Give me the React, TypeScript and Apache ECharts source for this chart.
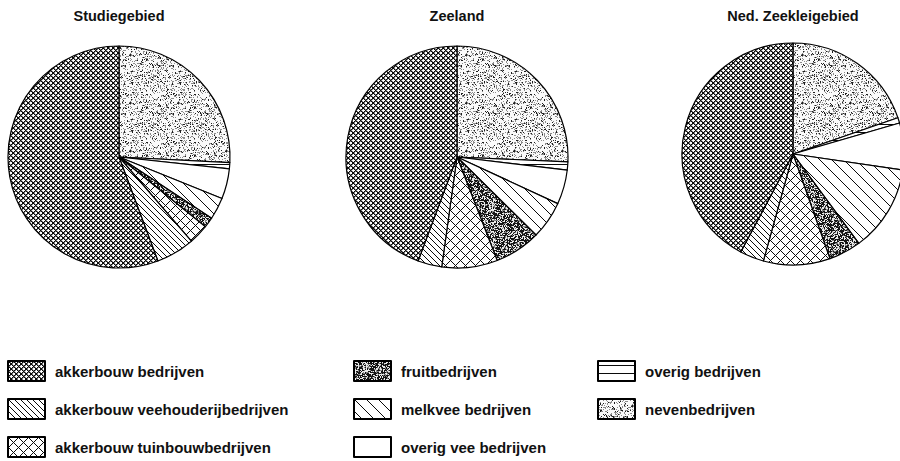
import React, { useEffect, useRef } from 'react';
import * as echarts from 'echarts';

// Slice order: clockwise from 12 o'clock
const categories = [
  'nevenbedrijven',
  'overig bedrijven',
  'overig vee bedrijven',
  'melkvee bedrijven',
  'fruitbedrijven',
  'akkerbouw tuinbouwbedrijven',
  'akkerbouw veehouderijbedrijven',
  'akkerbouw bedrijven',
];

const titles = ['Studiegebied', 'Zeeland', 'Ned. Zeekleigebied'];

// shares in percent
const studiegebied = [25.8, 0.9, 4.4, 3.2, 1.5, 2.9, 5.6, 55.7];
const zeeland = [25.7, 1.2, 5.0, 5.5, 6.7, 8.1, 3.5, 44.3];
const nedZeeklei = [19.7, 0.8, 6.8, 12.6, 4.7, 9.7, 3.5, 42.2];

const legendCol1 = ['akkerbouw bedrijven', 'akkerbouw veehouderijbedrijven', 'akkerbouw tuinbouwbedrijven'];
const legendCol2 = ['fruitbedrijven', 'melkvee bedrijven', 'overig vee bedrijven'];
const legendCol3 = ['overig bedrijven', 'nevenbedrijven'];

function hash(x: number, y: number, seed: number): number {
  let h = (x * 374761393 + y * 668265263 + seed * 982451653) | 0;
  h = Math.imul(h ^ (h >>> 13), 1274126177);
  h = h ^ (h >>> 16);
  return ((h >>> 0) % 1000) / 1000;
}

function tile(w: number, h: number, fn: (x: number, y: number) => number) {
  const c = document.createElement('canvas');
  c.width = w;
  c.height = h;
  const ctx = c.getContext('2d')!;
  const img = ctx.createImageData(w, h);
  for (let y = 0; y < h; y++) {
    for (let x = 0; x < w; x++) {
      const g = fn(x, y);
      const i = (y * w + x) * 4;
      img.data[i] = g;
      img.data[i + 1] = g;
      img.data[i + 2] = g;
      img.data[i + 3] = 255;
    }
  }
  ctx.putImageData(img, 0, 0);
  return { image: c.toDataURL(), repeat: 'repeat', imageWidth: w, imageHeight: h } as any;
}

function makePatterns(): Record<string, any> {
  const B = 10;
  const W = 255;
  return {
    'akkerbouw bedrijven': tile(5, 5, (x, y) => {
      const a = (x + y) % 5;
      const b = (x - y + 50) % 5;
      if (a === 0 || b === 0) return B;
      if (a === 1 || b === 1) return 120;
      return W;
    }),
    'akkerbouw veehouderijbedrijven': tile(6, 6, (x, y) => ((x - y + 60) % 6 === 0 ? B : W)),
    'akkerbouw tuinbouwbedrijven': tile(10, 10, (x, y) => ((x + y) % 10 === 0 || (x - y + 100) % 10 === 0 ? B : W)),
    'fruitbedrijven': tile(40, 40, (x, y) => {
      const v = hash(x, y, 3);
      const blob = hash(x >> 2, y >> 2, 7);
      if (v < 0.3 + 0.35 * blob) return 20;
      if (v < 0.55 + 0.2 * blob) return 130;
      return 235;
    }),
    'melkvee bedrijven': tile(12, 12, (x, y) => ((x - y + 120) % 12 === 0 ? B : W)),
    'overig vee bedrijven': tile(4, 4, () => W),
    'overig bedrijven': tile(8, 8, (x, y) => (y === 4 ? B : W)),
    'nevenbedrijven': tile(48, 48, (x, y) => {
      const v = hash(x, y, 11);
      const blob = hash(x >> 3, y >> 3, 5);
      if (v < 0.05 + 0.05 * blob) return 30;
      if (v < 0.2 + 0.12 * blob) return 140;
      return 250;
    }),
  };
}

export default function App() {
  const ref = useRef<HTMLDivElement>(null);
  useEffect(() => {
    if (!ref.current) return;
    const chart = echarts.init(ref.current, null, { renderer: 'svg' });
    const patterns = makePatterns();
    const centers: [number, number][] = [
      [119, 157],
      [457, 157],
      [793, 154],
    ];
    const datasets = [studiegebied, zeeland, nedZeeklei];
    const font = '"Liberation Sans", Arial, Helvetica, sans-serif';
    const legendBase = {
      orient: 'vertical' as const,
      icon: 'rect',
      itemWidth: 37,
      itemHeight: 20,
      itemGap: 16,
      padding: 0,
      height: 110,
      selectedMode: false,
      textStyle: {
        fontFamily: font,
        fontSize: 15,
        fontWeight: 'bold' as const,
        color: '#111',
        padding: [0, 0, 0, 5],
      },
      itemStyle: { borderColor: '#000', borderWidth: 2 },
    };
    chart.setOption({
      animation: false,
      backgroundColor: '#fff',
      graphic: titles.map((t, i) => ({
        type: 'text',
        x: centers[i][0],
        y: 16,
        style: {
          text: t,
          align: 'center',
          verticalAlign: 'middle',
          textAlign: 'center',
          textVerticalAlign: 'middle',
          font: `bold 14.5px ${font}`,
          fill: '#111',
        },
      })),
      legend: [
        { ...legendBase, left: 7, top: 360, data: legendCol1 },
        { ...legendBase, left: 353, top: 360, data: legendCol2 },
        { ...legendBase, left: 597, top: 360, data: legendCol3 },
      ],
      series: datasets.map((vals, i) => ({
        type: 'pie',
        name: titles[i],
        center: centers[i],
        radius: 111,
        startAngle: 90,
        clockwise: true,
        silent: true,
        label: { show: false },
        labelLine: { show: false },
        emphasis: { disabled: true },
        itemStyle: { borderColor: '#000', borderWidth: 1.2 },
        data: categories.map((c, k) => ({
          name: c,
          value: vals[k],
          itemStyle: { color: patterns[c] },
        })),
      })),
    });
    return () => chart.dispose();
  }, []);
  return (
    <div
      ref={ref}
      style={{ position: 'fixed', left: 0, top: 0, width: 900, height: 461, background: '#fff' }}
    />
  );
}
